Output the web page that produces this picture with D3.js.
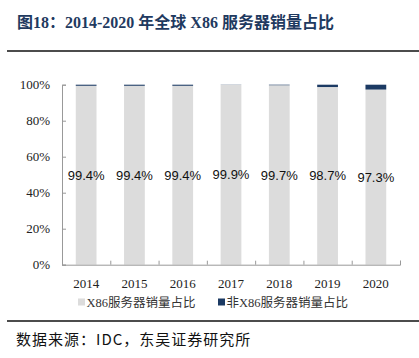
<!DOCTYPE html>
<html>
<head>
<meta charset="utf-8">
<script src="https://cdn.jsdelivr.net/npm/d3@7"></script>
<style>
  html, body { margin: 0; padding: 0; background: #fff; }
  svg { display: block; }
</style>
</head>
<body>
<svg id="chart" width="419" height="358"></svg>
<script>
const years = ["2014", "2015", "2016", "2017", "2018", "2019", "2020"];
const x86Share = [99.4, 99.4, 99.4, 99.9, 99.7, 98.7, 97.3];
const nonX86Share = [0.6, 0.6, 0.6, 0.1, 0.3, 1.3, 2.7];
const yTicks = [0, 20, 40, 60, 80, 100];
const seriesNames = ["X86服务器销量占比", "非X86服务器销量占比"];
const titleText = "图18：2014-2020 年全球 X86 服务器销量占比";
const sourceText = "数据来源：IDC，东吴证券研究所";

const colors = ["#dcdcdc", "#1c3a63"];
const serif = "'Liberation Serif', 'Times New Roman', 'Noto Sans CJK SC', serif";
const cjk = "'Noto Sans CJK SC', sans-serif";

const svg = d3.select("#chart");

// Title
svg.append("text")
  .attr("x", 17).attr("y", 28)
  .attr("fill", "#1f3a60")
  .attr("font-weight", "bold")
  .attr("font-size", 16)
  .attr("font-family", serif)
  .text(titleText);

// Top rule
svg.append("line").attr("x1", 7).attr("x2", 419).attr("y1", 51).attr("y2", 51)
  .attr("stroke", "#111").attr("stroke-width", 1.6);

// Scales
const x = d3.scaleBand().domain(years).range([62, 400]).paddingInner(0.57).paddingOuter(0.285);
const y = d3.scaleLinear().domain([0, 100]).range([264.7, 84.7]);

// Stack data
const table = years.map((yr, i) => ({ year: yr, a: x86Share[i], b: nonX86Share[i] }));
const stack = d3.stack().keys(["a", "b"])(table);

svg.append("g").selectAll("g").data(stack).join("g")
  .attr("fill", (d, i) => colors[i])
  .selectAll("rect").data(d => d).join("rect")
  .attr("x", d => x(d.data.year))
  .attr("width", x.bandwidth())
  .attr("y", d => y(d[1]))
  .attr("height", d => y(d[0]) - y(d[1]));

// Y axis
const yAxis = svg.append("g").attr("transform", "translate(62,0)")
  .call(d3.axisRight(y).tickValues(yTicks).tickSize(4).tickFormat(""));
yAxis.select(".domain").attr("stroke", "#999");
yAxis.selectAll(".tick line").attr("stroke", "#999");
svg.append("g").selectAll("text").data(yTicks).join("text")
  .attr("x", 50).attr("y", d => y(d)).attr("dy", "0.35em")
  .attr("text-anchor", "end")
  .attr("font-family", serif).attr("font-size", 13).attr("fill", "#222")
  .text(d => d + "%");

// X axis
const boundaries = years.map((yr, i) => 62 + x.step() * (i + 1));
const xb = d3.scaleLinear().domain([62, 400]).range([62, 400]);
const xAxis = svg.append("g").attr("transform", "translate(0,264.7)")
  .call(d3.axisTop(xb).tickValues(boundaries).tickSize(4).tickFormat(""));
xAxis.select(".domain").attr("stroke", "#999");
xAxis.selectAll(".tick line").attr("stroke", "#999");
svg.append("g").selectAll("text").data(years).join("text")
  .attr("x", d => x(d) + x.bandwidth() / 2).attr("y", 288)
  .attr("text-anchor", "middle")
  .attr("font-family", serif).attr("font-size", 13).attr("fill", "#222")
  .text(d => d);

// Data labels
svg.append("g").selectAll("text").data(table).join("text")
  .attr("x", d => x(d.year) + x.bandwidth() / 2)
  .attr("y", d => y(d.a / 2)).attr("dy", "0.35em")
  .attr("text-anchor", "middle")
  .attr("font-family", "'Liberation Sans', Arial, sans-serif").attr("font-size", 13)
  .attr("fill", "#111")
  .text(d => d.a.toFixed(1) + "%");

// Legend
const legendX = [78, 218];
const lg = svg.append("g").selectAll("g").data(seriesNames).join("g")
  .attr("transform", (d, i) => `translate(${legendX[i]},298.5)`);
lg.append("rect").attr("width", 7).attr("height", 7).attr("fill", (d, i) => colors[i]);
lg.append("text").attr("x", 8.5).attr("y", 3.5).attr("dy", "0.38em")
  .attr("font-family", serif).attr("font-size", 12.5).attr("fill", "#333")
  .text(d => d);

// Bottom rule
svg.append("line").attr("x1", 7).attr("x2", 419).attr("y1", 321).attr("y2", 321)
  .attr("stroke", "#111").attr("stroke-width", 1.6);

// Source
svg.append("text").attr("x", 16).attr("y", 345)
  .attr("font-family", cjk).attr("font-size", 15).attr("fill", "#111")
  .attr("letter-spacing", 1)
  .text(sourceText);
</script>
</body>
</html>
